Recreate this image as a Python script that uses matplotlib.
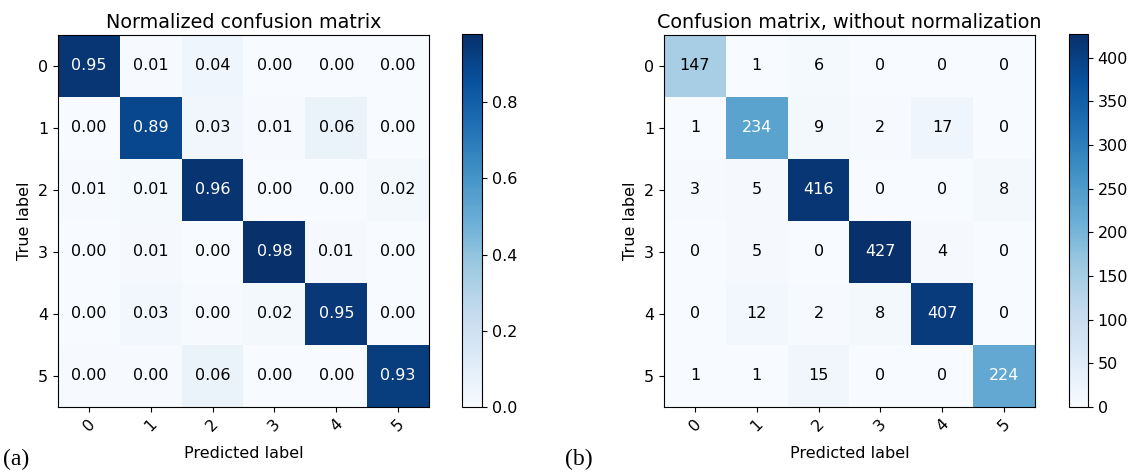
import numpy as np
import matplotlib
matplotlib.use("Agg")
import matplotlib.pyplot as plt

classes = ["0", "1", "2", "3", "4", "5"]

# confusion counts: rows = true label, columns = predicted label
counts = np.array([
    [147,   1,   6,   0,   0,   0],
    [  1, 234,   9,   2,  17,   0],
    [  3,   5, 416,   0,   0,   8],
    [  0,   5,   0, 427,   4,   0],
    [  0,  12,   2,   8, 407,   0],
    [  1,   1,  15,   0,   0, 224],
])

normalized = counts / counts.sum(axis=1, keepdims=True)

W, H = 1134, 476
fig = plt.figure(figsize=(W / 100, H / 100), dpi=100)

FS = 11.5


def px_axes(x0, y0, x1, y1):
    return fig.add_axes([x0 / W, 1 - y1 / H, (x1 - x0) / W, (y1 - y0) / H])


def draw_matrix(ax, cax, cm, title, fmt, cbar_ticks):
    im = ax.imshow(cm, interpolation="nearest", cmap=plt.cm.Blues, aspect="auto")
    ax.set_title(title, fontsize=13.8, pad=5)
    cb = fig.colorbar(im, cax=cax)
    cb.set_ticks(cbar_ticks)
    cb.ax.tick_params(labelsize=FS)
    ticks = np.arange(len(classes))
    ax.set_xticks(ticks)
    ax.set_xticklabels(classes, rotation=45, fontsize=FS)
    ax.set_yticks(ticks)
    ax.set_yticklabels(classes, fontsize=FS)
    thresh = cm.max() / 2.0
    for i in range(cm.shape[0]):
        for j in range(cm.shape[1]):
            ax.text(j, i, format(cm[i, j], fmt),
                    ha="center", va="center", fontsize=FS,
                    color="white" if cm[i, j] > thresh else "black")
    ax.set_ylabel("True label", fontsize=FS)
    ax.set_xlabel("Predicted label", fontsize=FS, labelpad=8)


ax_a = px_axes(58, 35, 429, 407)
cax_a = px_axes(462, 34, 482, 407)
draw_matrix(ax_a, cax_a, normalized, "Normalized confusion matrix", ".2f",
            [0.0, 0.2, 0.4, 0.6, 0.8])

ax_b = px_axes(664, 35, 1035, 407)
cax_b = px_axes(1069, 34, 1088, 407)
draw_matrix(ax_b, cax_b, counts, "Confusion matrix, without normalization", "d",
            [0, 50, 100, 150, 200, 250, 300, 350, 400])

fig.text(3 / W, 1 - 459 / H, "(a)", fontsize=17, family="Liberation Serif",
         ha="left", va="center")
fig.text(565 / W, 1 - 459 / H, "(b)", fontsize=17, family="Liberation Serif",
         ha="left", va="center")

fig.savefig("out.png", dpi=100)
